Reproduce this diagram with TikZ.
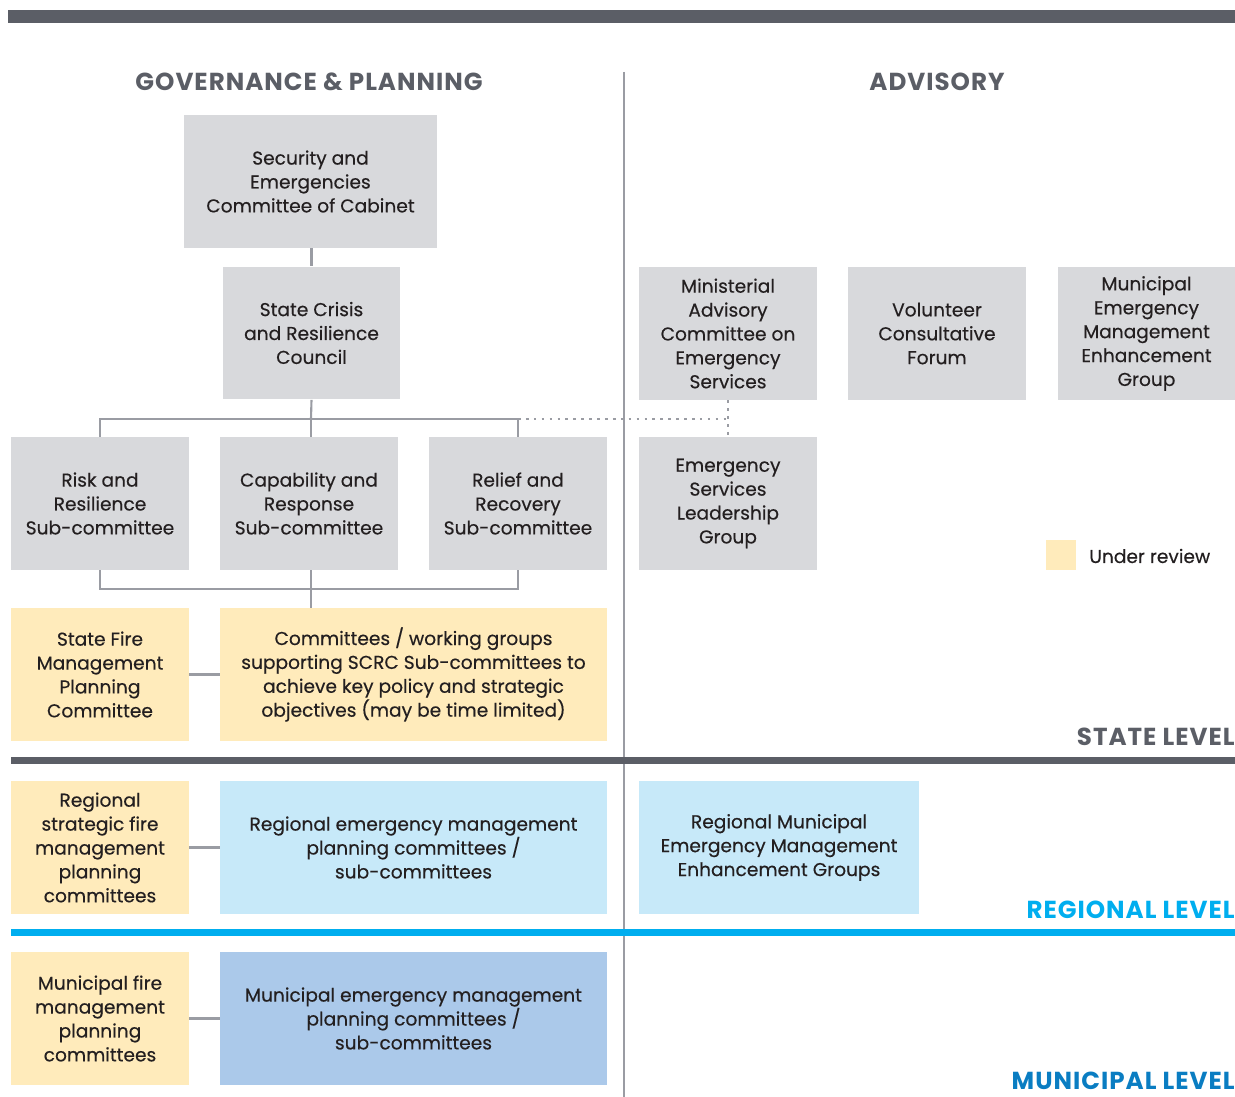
\documentclass[tikz,border=0pt]{standalone}
\usepackage{fontspec}
\setmainfont{Poppins}
\newfontfamily\boxfont{Poppins}[FakeBold=0.35]
\newfontfamily\headfont{Poppins}[LetterSpace=4]

\definecolor{bar}{HTML}{5B5E66}
\definecolor{linkgray}{HTML}{9A9CA3}
\definecolor{boxgray}{HTML}{D8D9DC}
\definecolor{review}{HTML}{FFEBBB}
\definecolor{regblue}{HTML}{C7E9F9}
\definecolor{munblue}{HTML}{ABC9EA}
\definecolor{regtext}{HTML}{00AEEF}
\definecolor{muntext}{HTML}{0A7DC2}
\definecolor{ink}{HTML}{231F20}

\tikzset{
  box/.style={fill=boxgray, minimum width=3.56cm, minimum height=2.66cm,
    inner sep=0pt, align=center, text=ink, font=\boxfont\fontsize{10.6}{13.6}\selectfont},
  heading/.style={text=bar, inner sep=0pt, font=\headfont\bfseries\fontsize{14}{16}\selectfont},
  conn/.style={draw=linkgray, line width=1.2pt},
}

\begin{document}
\begin{tikzpicture}[x=0.02cm, y=-0.02cm]
\useasboundingbox (0,0) rectangle (1235,1097);

% bars and divider
\fill[bar] (8,10) rectangle (1235,23);
\draw[linkgray, line width=1.1pt] (624,72) -- (624,1097);
\fill[bar] (11,757) rectangle (1235,764);
\fill[regtext] (11,929) rectangle (1235,936);

\node[heading] (gov) at (309,82) {GOVERNANCE \& PLANNING};
\node[heading] (adv) at (937,82) {ADVISORY};

% governance column
\node[box, minimum width=5.06cm] (secc) at (310.5,181.5) {Security and\\Emergencies\\Committee of Cabinet};
\node[box] (scrc) at (311.5,333) {State Crisis\\and Resilience\\Council};
\node[box] (risk) at (100,503.5) {Risk and\\Resilience\\Sub-committee};
\node[box] (cap) at (309,503.5) {Capability and\\Response\\Sub-committee};
\node[box] (relief) at (518,503.5) {Relief and\\Recovery\\Sub-committee};
\node[box, fill=review] (fire) at (100,674.5) {State Fire\\Management\\Planning\\Committee};
\node[box, fill=review, minimum width=7.74cm] (groups) at (413.5,674.5) {Committees / working groups\\supporting SCRC Sub-committees to\\achieve key policy and strategic\\objectives (may be time limited)};

% advisory column
\node[box] (mac) at (728,333.5) {Ministerial\\Advisory\\Committee on\\Emergency\\Services};
\node[box] (vcf) at (937,333.5) {Volunteer\\Consultative\\Forum};
\node[box] (memeg) at (1146.5,333.5) {Municipal\\Emergency\\Management\\Enhancement\\Group};
\node[box] (eslg) at (728,503.5) {Emergency\\Services\\Leadership\\Group};

% regional and municipal rows
\node[box, fill=review] (regfire) at (100,847.5) {Regional\\strategic fire\\management\\planning\\committees};
\node[box, fill=regblue, minimum width=7.74cm] (regem) at (413.5,847.5) {Regional emergency management\\planning committees /\\sub-committees};
\node[box, fill=regblue, minimum width=5.6cm] (regmemeg) at (779,847.5) {Regional Municipal\\Emergency Management\\Enhancement Groups};
\node[box, fill=review] (munfire) at (100,1018.5) {Municipal fire\\management\\planning\\committees};
\node[box, fill=munblue, minimum width=7.74cm] (munem) at (413.5,1018.5) {Municipal emergency management\\planning committees /\\sub-committees};

% legend
\node[fill=review, minimum size=0.6cm, inner sep=0pt] (key) at (1061,555) {};
\node[anchor=west, inner sep=0pt, text=ink, font=\boxfont\fontsize{10.6}{13.6}\selectfont] (keytext) at (1089,556) {Under review};

% level labels
\node[heading, anchor=east] (state) at (1235,737) {STATE LEVEL};
\node[heading, anchor=east, text=regtext] (region) at (1235,910) {REGIONAL LEVEL};
\node[heading, anchor=east, text=muntext] (muni) at (1235,1081) {MUNICIPAL LEVEL};

% connectors
\coordinate (top) at (311,419);
\coordinate (low) at (311,589);
\draw[conn] (secc.south -| scrc) -- (scrc.north);
\draw[conn] (scrc.south) -- (top);
\draw[conn] (risk.north) |- (top) -| (relief.north);
\draw[conn] (top) -- (top |- cap.north);
\draw[conn] (risk.south) |- (low) -| (relief.south);
\draw[conn] (top |- cap.south) -- (top |- groups.north);
\draw[conn] (fire.east) -- (groups.west);
\draw[conn] (regfire.east) -- (regem.west);
\draw[conn] (munfire.east) -- (munem.west);
\draw[conn, line width=1.5pt, dash pattern=on 1.5pt off 3pt] (relief.north |- top) -- (mac.south |- top);
\draw[conn, line width=1.5pt, dash pattern=on 1.5pt off 3pt] (mac.south) -- (eslg.north);
\end{tikzpicture}
\end{document}
